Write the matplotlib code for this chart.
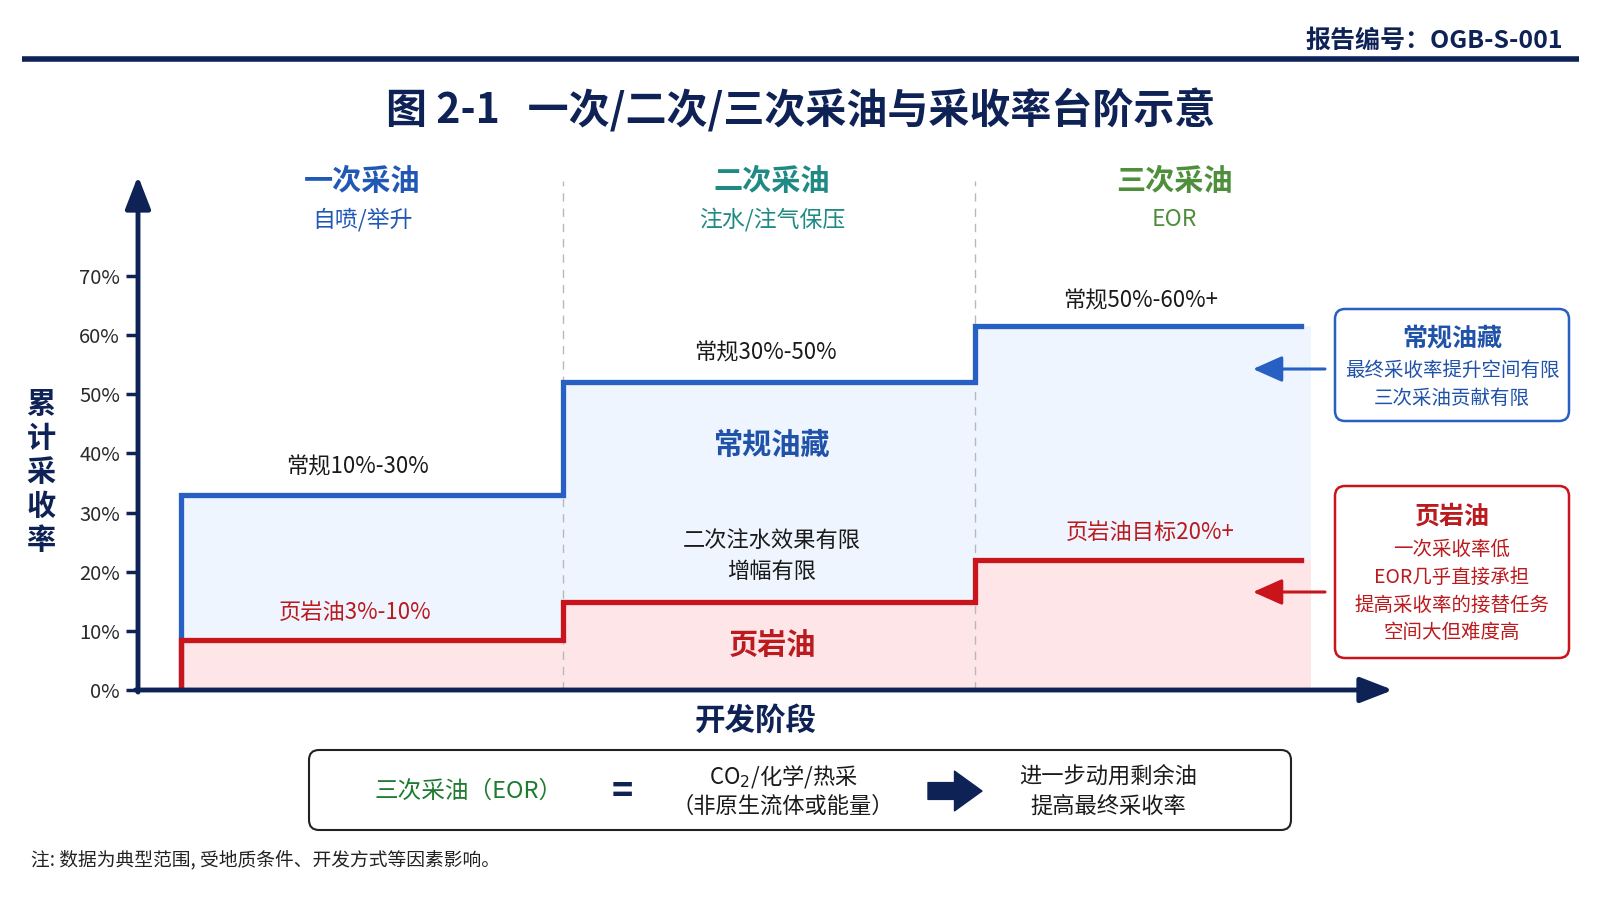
import numpy as np
import matplotlib
matplotlib.use('Agg')
import matplotlib.pyplot as plt
from matplotlib.patches import FancyBboxPatch

plt.rcParams['font.family'] = ['Noto Sans CJK SC', 'DejaVu Sans']

W, H = 1600, 900

NAVY = '#0f2256'
BLUE = '#2760c2'
BLUE_TXT = '#1f52a8'
RED = '#c9141c'
RED_TXT = '#bb1a1e'
BLUE_FILL = '#eef5fe'
RED_FILL = '#fde5e8'
STAGE_COLORS = ['#2158b5', '#1f8a84', '#4f8f3c']

# data
stages = ['一次采油', '二次采油', '三次采油']
stage_methods = ['自喷/举升', '注水/注气保压', 'EOR']
conv_recovery = [33, 52, 61.5]
shale_recovery = [8.5, 14.8, 22]
conv_labels = ['常规10%-30%', '常规30%-50%', '常规50%-60%+']
shale_labels = ['页岩油3%-10%', '', '页岩油目标20%+']
y_ticks = [0, 10, 20, 30, 40, 50, 60, 70]
y_tick_labels = ['0%', '10%', '20%', '30%', '40%', '50%', '60%', '70%']

# layout (x in pixels from the y axis)
edges = [43, 425, 837, 1163]
fill_end = 1173
header_x = [224, 634, 1036]
conv_label_x = [219, 627, 1003]
conv_label_off = [20, 21, 18]
shale_label_x = [217, 634, 1012]

fig = plt.figure(figsize=(16, 9), dpi=100)
fig.patch.set_facecolor('white')

# main chart: y=0 at px 690, arrow top px 176, x from 138 to 1393
ax = fig.add_axes([138 / W, 1 - 690 / H, (1393 - 138) / W, (690 - 176) / H])
ax.set_xlim(0, 1255)
ax.set_ylim(0, (690 - 176) / 5.914)
ax.set_facecolor('none')
for s in ax.spines.values():
    s.set_visible(False)

conv_y = conv_recovery + [conv_recovery[-1]]
shale_y = shale_recovery + [shale_recovery[-1]]
fill_x = edges[:-1] + [fill_end]

ax.fill_between(fill_x, 0, conv_y, step='post', color=BLUE_FILL, lw=0, zorder=1)
ax.fill_between(fill_x, 0, shale_y, step='post', color=RED_FILL, lw=0, zorder=1)

for xe in edges[1:3]:
    ax.axvline(xe, ymin=0, ymax=0.99, color='#b8b8b8', lw=1, ls=(0, (6, 5)), zorder=2)

ax.plot(np.r_[edges[0], edges], np.r_[0, conv_y], drawstyle='steps-post',
        color=BLUE, lw=3.8, solid_joinstyle='miter', zorder=3)
ax.plot(np.r_[edges[0], edges], np.r_[0, shale_y], drawstyle='steps-post',
        color=RED, lw=3.8, solid_joinstyle='miter', zorder=4)

# axes arrows
ax.annotate('', xy=(0, 1), xytext=(0, -0.004), xycoords='axes fraction',
            arrowprops=dict(arrowstyle='-|>,head_width=0.35,head_length=0.9', lw=3.5,
                            color=NAVY, mutation_scale=22, shrinkA=0, shrinkB=0), zorder=5)
ax.annotate('', xy=(1, 0), xytext=(-0.002, 0), xycoords='axes fraction',
            arrowprops=dict(arrowstyle='-|>,head_width=0.35,head_length=0.9', lw=3.5,
                            color=NAVY, mutation_scale=22, shrinkA=0, shrinkB=0), zorder=5)

ax.set_yticks(y_ticks)
ax.set_yticklabels(y_tick_labels, fontsize=14.5, color='#2a2a2a')
ax.tick_params(axis='y', length=9, width=2.5, color=NAVY, pad=4)
ax.set_xticks([])

# stage headers
for i in range(3):
    ax.text(header_x[i], 86.1, stages[i], ha='center', va='center', fontsize=21,
            fontweight='bold', color=STAGE_COLORS[i], clip_on=False)
    ax.text(header_x[i], 79.5, stage_methods[i], ha='center', va='center', fontsize=16.5,
            color=STAGE_COLORS[i], clip_on=False)

for i in range(3):
    ax.annotate(conv_labels[i], (conv_label_x[i], conv_recovery[i]), xytext=(0, conv_label_off[i]),
                textcoords='offset points', ha='center', va='center', fontsize=16, color='#1a1a1a')
    if shale_labels[i]:
        ax.annotate(shale_labels[i], (shale_label_x[i], shale_recovery[i]), xytext=(0, 20),
                    textcoords='offset points', ha='center', va='center', fontsize=16, color=RED_TXT)

ax.text(634, 41.5, '常规油藏', ha='center', va='center', fontsize=21,
        fontweight='bold', color=BLUE_TXT, zorder=6)
ax.text(634, 22.6, '二次注水效果有限\n增幅有限', ha='center', va='center', fontsize=16,
        color='#1a1a1a', linespacing=1.45, zorder=6)
ax.text(634, 7.6, '页岩油', ha='center', va='center', fontsize=21,
        fontweight='bold', color=RED_TXT, zorder=6)

# overlay in pixel coordinates
ov = fig.add_axes([0, 0, 1, 1])
ov.set_xlim(0, W)
ov.set_ylim(H, 0)
ov.axis('off')

ov.text(1563, 41, '报告编号：OGB-S-001', ha='right', va='center', fontsize=18,
        fontweight='bold', color=NAVY)
ov.plot([22, 1579], [59, 59], color=NAVY, lw=4, solid_capstyle='butt')
ov.text(801, 110, '图 2-1   一次/二次/三次采油与采收率台阶示意', ha='center', va='center',
        fontsize=29.5, fontweight='bold', color=NAVY)

ov.text(41, 472, '累\n计\n采\n收\n率', ha='center', va='center', fontsize=21,
        fontweight='bold', color=NAVY, linespacing=1.17)
ov.text(756, 721, '开发阶段', ha='center', va='center', fontsize=22,
        fontweight='bold', color=NAVY)

# right boxes
ov.add_patch(FancyBboxPatch((1335, 309), 234, 112, boxstyle='round,pad=0,rounding_size=10',
                            fc='white', ec=BLUE, lw=1.8))
ov.text(1452, 338, '常规油藏', ha='center', va='center', fontsize=18, fontweight='bold', color=BLUE_TXT)
ov.text(1452, 370, '最终采收率提升空间有限', ha='center', va='center', fontsize=14, color=BLUE_TXT)
ov.text(1452, 398, '三次采油贡献有限', ha='center', va='center', fontsize=14, color=BLUE_TXT)

ov.add_patch(FancyBboxPatch((1335, 486), 234, 172, boxstyle='round,pad=0,rounding_size=10',
                            fc='white', ec=RED, lw=1.8))
ov.text(1452, 517, '页岩油', ha='center', va='center', fontsize=18, fontweight='bold', color=RED_TXT)
red_lines = ['一次采收率低', 'EOR几乎直接承担', '提高采收率的接替任务', '空间大但难度高']
for k, line in enumerate(red_lines):
    ov.text(1452, 549 + 28 * k, line, ha='center', va='center', fontsize=14, color=RED_TXT)

for yy, col in [(369, BLUE), (592, RED)]:
    ov.annotate('', xy=(1253, yy), xytext=(1325, yy),
                arrowprops=dict(arrowstyle='-|>,head_width=0.4,head_length=0.9', lw=2.2,
                                color=col, mutation_scale=20, shrinkA=0, shrinkB=0))

# bottom box
ov.add_patch(FancyBboxPatch((309, 750), 982, 80, boxstyle='round,pad=0,rounding_size=10',
                            fc='white', ec='#222222', lw=1.5))
ov.text(469, 791, '三次采油（EOR）', ha='center', va='center', fontsize=17,
        fontweight='medium', color='#1e7b2f')
ov.text(622, 791, '=', ha='center', va='center', fontsize=26, fontweight='bold', color=NAVY)
ov.text(783, 776, 'CO$_2$/化学/热采', ha='center', va='center', fontsize=16, color='#1a1a1a')
ov.text(783, 806, '（非原生流体或能量）', ha='center', va='center', fontsize=16, color='#1a1a1a')
ov.annotate('', xy=(982, 791), xytext=(928, 791),
            arrowprops=dict(arrowstyle='simple,head_width=1.3,head_length=0.9,tail_width=0.55',
                            color=NAVY, mutation_scale=22, shrinkA=0, shrinkB=0))
ov.text(1108, 776, '进一步动用剩余油', ha='center', va='center', fontsize=16, color='#1a1a1a')
ov.text(1108, 806, '提高最终采收率', ha='center', va='center', fontsize=16, color='#1a1a1a')

ov.text(31, 860, '注: 数据为典型范围, 受地质条件、开发方式等因素影响。', ha='left', va='center',
        fontsize=13.5, color='#222222')

fig.savefig('out.png', dpi=100)
